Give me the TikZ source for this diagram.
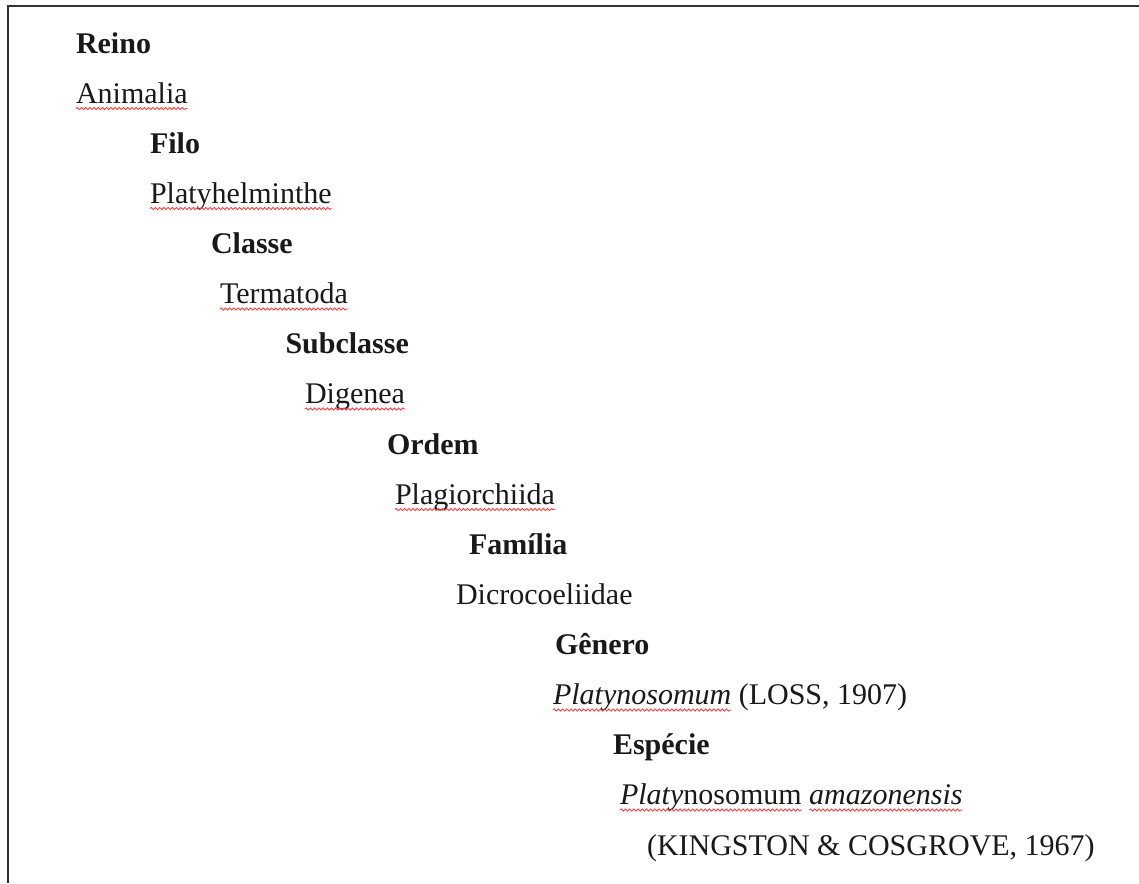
\documentclass[tikz,border=0pt]{standalone}
\usepackage{fontspec}
\setmainfont{Liberation Serif}
\usetikzlibrary{decorations.pathmorphing}
\begin{document}
\begin{tikzpicture}[x=1pt,y=-1pt,
  txt/.style={anchor=base west,inner sep=0pt,outer sep=0pt,text=black!90,font=\fontsize{30}{36}\selectfont},
  rank/.style={txt,font=\fontsize{30}{36}\selectfont\bfseries},
  squig/.style={draw=red!75!white,line width=0.9pt,decorate,decoration={snake,amplitude=1.1pt,segment length=4.2pt}},
  frame/.style={draw=black!80,line width=2.2pt}]
\useasboundingbox (0,0) rectangle (1139,883);
\coordinate (tl) at (8.3,6);
\coordinate (tr) at (1139,6);
\coordinate (bl) at (8.3,883);
\draw[frame] (tr) -- (tl) -- (bl);
% texts
\node[rank] (reino) at (76,53) {Reino};
\node[txt]  (animalia) at (76,103) {Animalia};
\node[rank] (filo) at (150,153) {Filo};
\node[txt]  (platy) at (150,203) {Platyhelminthe};
\node[rank] (classe) at (211,253.5) {Classe};
\node[txt]  (term) at (220,303.5) {Termatoda};
\node[rank] (subcl) at (285.5,353.5) {Subclasse};
\node[txt]  (dig) at (305,403.5) {Digenea};
\node[rank] (ordem) at (387,454) {Ordem};
\node[txt]  (plag) at (395,504) {Plagiorchiida};
\node[rank] (fam) at (469,554) {Família};
\node[txt]  (dicro) at (456,604) {Dicrocoeliidae};
\node[rank] (gen) at (555,654.5) {Gênero};
\node[txt]  (genA) at (553,704.5) {\itshape Platynosomum};
\node[txt,anchor=base west] (genB) at ([xshift=7.5pt]genA.base east) {(LOSS, 1907)};
\node[rank] (esp) at (613,754.5) {Espécie};
\node[txt]  (espA) at (620,804.5) {\textit{Platy}nosomum};
\node[txt,anchor=base west] (espB) at ([xshift=7.5pt]espA.base east) {\itshape amazonensis};
\node[txt]  (auth) at (647,855) {(KINGSTON \& COSGROVE, 1967)};
% spell-check squiggles
\foreach \n in {animalia,platy,term,dig,plag,genA,espA,espB}{
  \draw[squig] ([yshift=-5.5pt]\n.base west) -- ([yshift=-5.5pt]\n.base east);
}
\end{tikzpicture}
\end{document}
